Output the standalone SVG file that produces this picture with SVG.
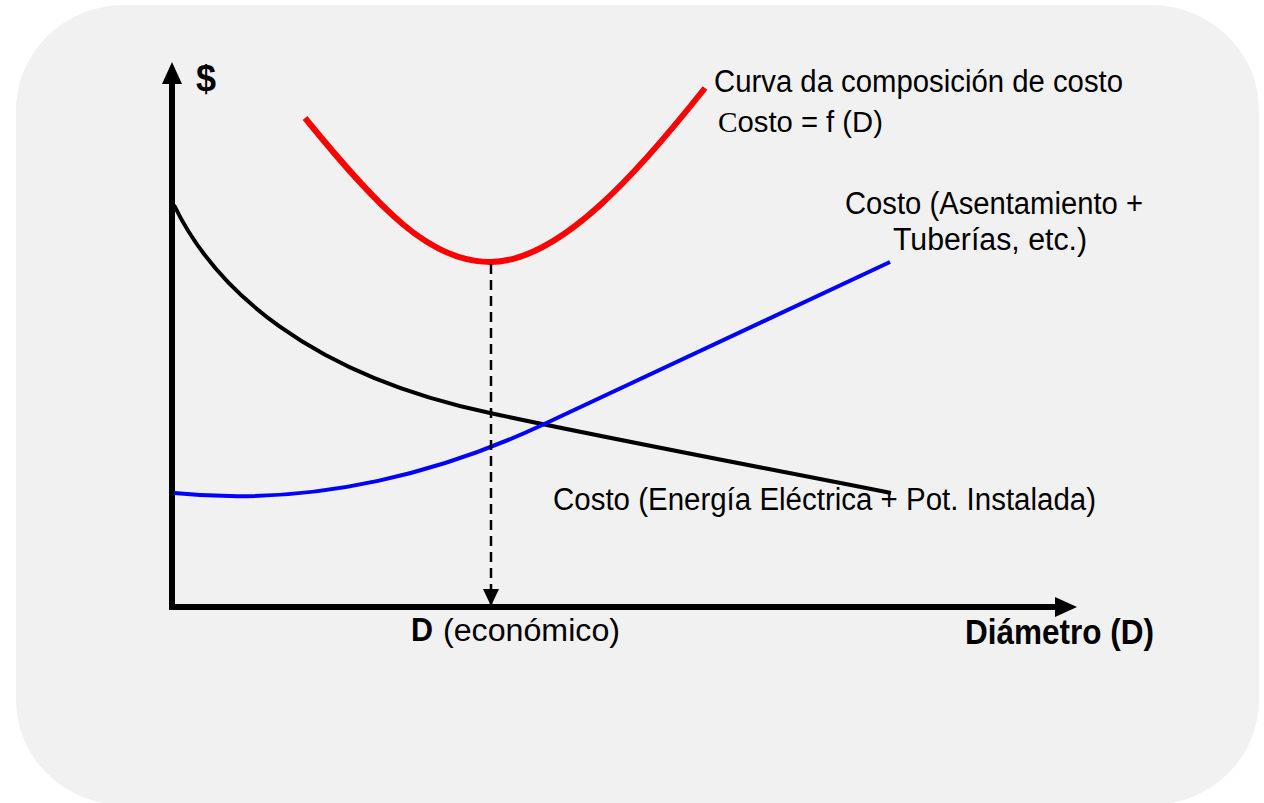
<svg xmlns="http://www.w3.org/2000/svg" width="1264" height="803" viewBox="0 0 1264 803">
  <style>
    .t { font-family: "Liberation Sans", Arial, sans-serif; font-size: 31px; fill: #000; }
    .b { font-family: "Liberation Sans", Arial, sans-serif; font-weight: bold; fill: #000; }
    .curve { fill: none; stroke-linecap: butt; }
  </style>
  <defs>
    <marker id="axisArrow" viewBox="0 0 22 20" refX="2" refY="10" markerWidth="22" markerHeight="20" markerUnits="userSpaceOnUse" orient="auto">
      <path d="M0,0 L22,10 L0,20 Z" fill="#000"/>
    </marker>
    <marker id="dashArrow" viewBox="0 0 17 16" refX="17" refY="8" markerWidth="17" markerHeight="16" markerUnits="userSpaceOnUse" orient="auto">
      <path d="M0,0 L17,8 L0,16 Z" fill="#000"/>
    </marker>
  </defs>

  <rect id="background" x="16" y="5" width="1243" height="800" rx="108" ry="105" fill="#f1f1f1"/>

  <g id="axes">
    <path d="M172,607 L172,82" stroke="#000" stroke-width="6" fill="none" marker-end="url(#axisArrow)"/>
    <path d="M169,607 L1057,607" stroke="#000" stroke-width="6" fill="none" marker-end="url(#axisArrow)"/>
  </g>

  <g id="curve-energia">
    <path class="curve" d="M174,205 C215,290 310,375 490,413 C600,437 760,467 891,493" stroke="#000" stroke-width="4"/>
  </g>

  <g id="curve-asentamiento">
    <path class="curve" d="M174,493 C320,508 450,468 540,426 L890,262" stroke="#0000ff" stroke-width="4"/>
  </g>

  <g id="curve-composicion">
    <path class="curve" d="M305,118 C380,210 430,262 490,262 C560,262 640,170 705,88" stroke="#ff0000" stroke-width="6"/>
  </g>

  <g id="connectors">
    <path d="M491,264 L491,606" stroke="#000" stroke-width="2.5" stroke-dasharray="10,6" fill="none" marker-end="url(#dashArrow)"/>
  </g>

  <g id="labels">
    <text class="b" x="196" y="91" font-size="36">$</text>
    <text class="t" x="714" y="92" textLength="409" lengthAdjust="spacingAndGlyphs">Curva da composición de costo</text>
    <text class="t" x="718" y="132" style="font-size:30px" textLength="165" lengthAdjust="spacingAndGlyphs"><tspan font-family="Liberation Serif, Times New Roman, serif">C</tspan>osto = f (D)</text>
    <text class="t" x="845" y="214" textLength="298" lengthAdjust="spacingAndGlyphs">Costo (Asentamiento +</text>
    <text class="t" x="893" y="250" textLength="194" lengthAdjust="spacingAndGlyphs">Tuberías, etc.)</text>
    <text class="t" x="553" y="510" textLength="543" lengthAdjust="spacingAndGlyphs">Costo (Energía Eléctrica + Pot. Instalada)</text>
    <text class="b" x="411" y="641" font-size="33" textLength="22" lengthAdjust="spacingAndGlyphs">D</text>
    <text class="t" x="443" y="641" textLength="177" lengthAdjust="spacingAndGlyphs">(económico)</text>
    <text class="b" x="965" y="644" font-size="35" textLength="189" lengthAdjust="spacingAndGlyphs">Diámetro (D)</text>
  </g>
</svg>
